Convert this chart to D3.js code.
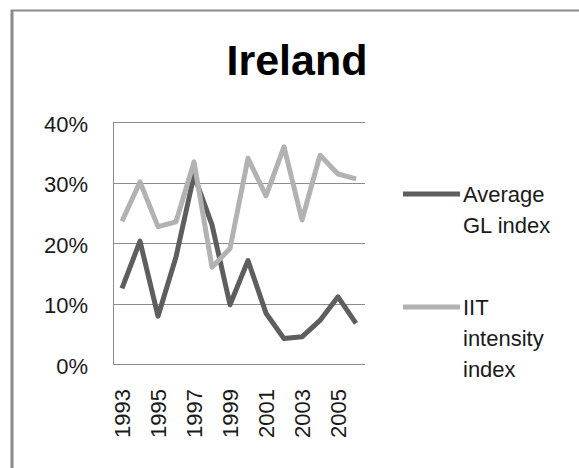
<!DOCTYPE html>
<html>
<head>
  <meta charset="utf-8">
  <style>
    body { margin: 0; padding: 0; background: white; font-family: "Liberation Sans", Arial, sans-serif; }
    .grid line { stroke: #8c8c8c; stroke-width: 1; }
    .label { fill: #1a1a1a; font-size: 22px; }
  </style>
</head>
<body>
  <div id="chart"></div>
  <script src="https://d3js.org/d3.v7.min.js"></script>
  <script>
    // chart values
    var years = [1993, 1994, 1995, 1996, 1997, 1998, 1999, 2000, 2001, 2002, 2003, 2004, 2005, 2006]
    var glIndex = [0.125, 0.203, 0.079, 0.177, 0.312, 0.230, 0.098, 0.171, 0.084, 0.042, 0.045, 0.072, 0.111, 0.067]
    var iitIndex = [0.236, 0.301, 0.227, 0.235, 0.334, 0.160, 0.191, 0.340, 0.278, 0.359, 0.238, 0.345, 0.314, 0.306]
    var yTicks = [0, 0.1, 0.2, 0.3, 0.4]
    var yearLabels = [1993, 1995, 1997, 1999, 2001, 2003, 2005]
    var seriesNames = [["Average", "GL index"], ["IIT", "intensity", "index"]]
    var seriesColors = ["#5e5e5e", "#b2b2b2"]

    var width = 579,
      height = 468

    var svg = d3.select("#chart")
      .append("svg")
      .attr("width", width)
      .attr("height", height)

    // outer frame (only top and left visible)
    svg.append("line")
      .attr("x1", 11).attr("x2", width).attr("y1", 10.5).attr("y2", 10.5)
      .attr("stroke", "#8a8a8a").attr("stroke-width", 2)
    svg.append("line")
      .attr("x1", 12).attr("x2", 12).attr("y1", 10).attr("y2", height)
      .attr("stroke", "#8a8a8a").attr("stroke-width", 3)

    // title
    svg.append("text")
      .attr("x", 297)
      .attr("y", 75)
      .attr("text-anchor", "middle")
      .style("font-size", "43px")
      .style("font-weight", "bold")
      .style("fill", "#000")
      .text("Ireland")

    var plot = { left: 113, right: 365, top: 122, bottom: 364 }

    var x = d3.scaleBand()
      .domain(years)
      .range([plot.left, plot.right])

    var y = d3.scaleLinear()
      .domain([0, 0.4])
      .range([plot.bottom, plot.top])

    // gridlines
    svg.append("g")
      .attr("class", "grid")
      .selectAll("line")
      .data(yTicks)
      .enter().append("line")
      .attr("x1", plot.left)
      .attr("x2", plot.right)
      .attr("y1", function(d) { return Math.round(y(d)) + 0.5 })
      .attr("y2", function(d) { return Math.round(y(d)) + 0.5 })

    // left axis line
    svg.append("line")
      .attr("x1", plot.left + 0.5).attr("x2", plot.left + 0.5)
      .attr("y1", plot.top).attr("y2", plot.bottom)
      .attr("stroke", "#8c8c8c")

    // y labels
    svg.append("g")
      .selectAll("text")
      .data(yTicks)
      .enter().append("text")
      .attr("class", "label")
      .attr("x", 88)
      .attr("y", function(d) { return y(d) })
      .attr("dy", "0.45em")
      .attr("text-anchor", "end")
      .text(d3.format(".0%"))

    // x labels, rotated
    svg.append("g")
      .selectAll("text")
      .data(yearLabels)
      .enter().append("text")
      .attr("class", "label")
      .attr("transform", function(d) {
        return "translate(" + (x(d) + x.bandwidth() / 2 + 8) + ",389) rotate(-90)"
      })
      .attr("text-anchor", "end")
      .text(function(d) { return d })

    var line = d3.line()
      .x(function(d, i) { return x(years[i]) + x.bandwidth() / 2 })
      .y(function(d) { return y(d) })

    ;[glIndex, iitIndex].forEach(function(series, i) {
      svg.append("path")
        .datum(series)
        .attr("d", line)
        .attr("fill", "none")
        .attr("stroke", seriesColors[i])
        .attr("stroke-width", 5)
        .attr("stroke-linejoin", "round")
    })

    // legend
    var legendY = [194, 307]
    var legend = svg.append("g")
      .selectAll("g")
      .data(seriesNames)
      .enter().append("g")
      .attr("transform", function(d, i) { return "translate(403," + legendY[i] + ")" })

    legend.append("line")
      .attr("x1", 0).attr("x2", 57)
      .attr("stroke", function(d, i) { return seriesColors[i] })
      .attr("stroke-width", 5)

    legend.append("text")
      .attr("class", "label")
      .attr("x", 60)
      .attr("y", 8)
      .selectAll("tspan")
      .data(function(d) { return d })
      .enter().append("tspan")
      .attr("x", 60)
      .attr("dy", function(d, i) { return i === 0 ? 0 : 31 })
      .text(function(d) { return d })
  </script>
</body>
</html>
